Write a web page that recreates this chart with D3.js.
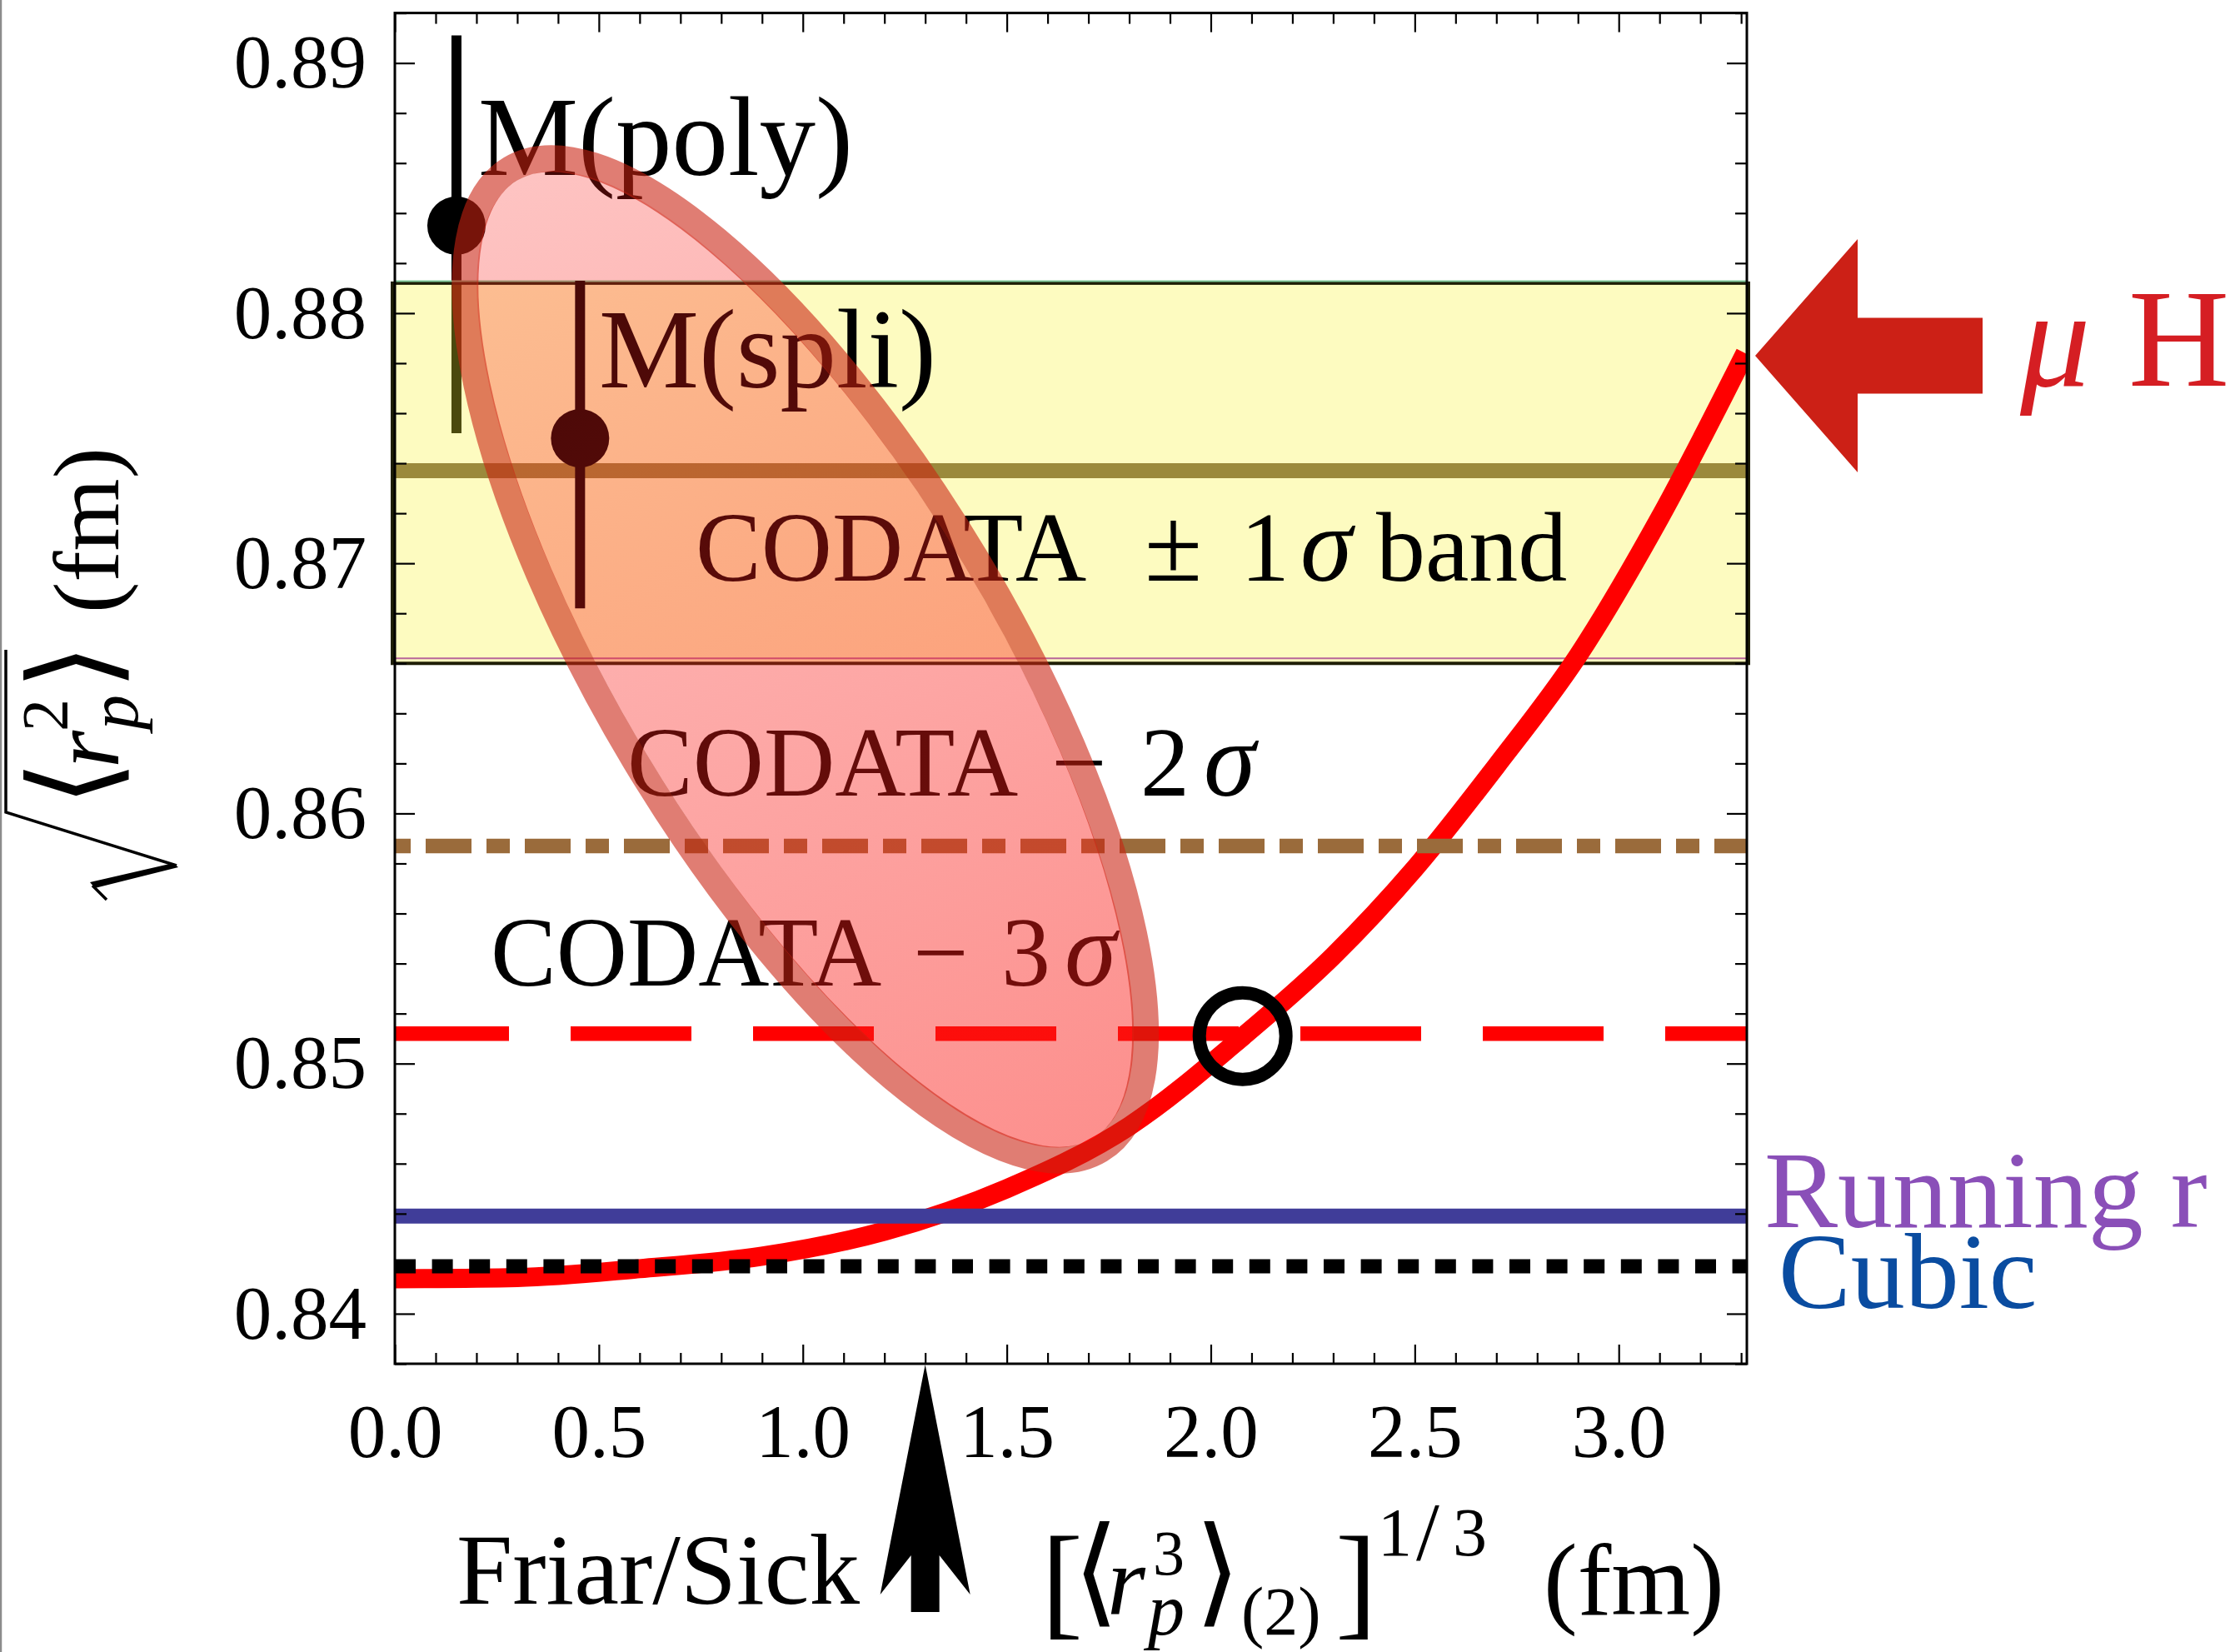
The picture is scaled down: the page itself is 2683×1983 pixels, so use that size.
<!DOCTYPE html>
<html><head><meta charset="utf-8">
<script src="https://cdn.jsdelivr.net/npm/d3@7"></script>
<style>
html,body{margin:0;padding:0;background:#fff;}
svg{display:block;}
text{font-family:"Liberation Serif","DejaVu Serif","Times New Roman",serif;}
</style></head><body>
<svg id="chart" width="2683" height="1983"></svg>
<script>
// ---------- data ----------
const xMajorTicks = [0, 0.5, 1.0, 1.5, 2.0, 2.5, 3.0];
const xTickLabels = ["0.0", "0.5", "1.0", "1.5", "2.0", "2.5", "3.0"];
const yMajorTicks = [0.84, 0.85, 0.86, 0.87, 0.88, 0.89];
const yTickLabels = ["0.84", "0.85", "0.86", "0.87", "0.88", "0.89"];

// muonic-hydrogen constraint: third Zemach moment (fm) -> rms radius (fm)
const curveR3 = [0, 0.3, 0.6, 0.9, 1.2, 1.5, 1.8, 2.08, 2.3, 2.5, 2.7, 2.9, 3.1, 3.31];
const curveRp = [0.8414, 0.84145, 0.8418, 0.8423, 0.8433, 0.8450, 0.8475, 0.8511, 0.8543, 0.8578, 0.8619, 0.8663, 0.8718, 0.8784];

// form-factor fits with error bars
const fitNames = ["M(poly)", "M(spli)"];
const fitR3 = [0.151, 0.454];
const fitRp = [0.8835, 0.8750];
const fitRpLow = [0.8752, 0.8682];
const fitRpHigh = [0.8911, 0.8813];

const codataCentral = 0.8737;
const codataBand = [0.8660, 0.8812];
const codataMinus2 = 0.8587;
const codataMinus3 = 0.8512;
const runningR = 0.8439;
const cubicR = 0.8419;
const crossingPoint = [2.078, 0.8511];
const friarSickR3 = 1.3;
const muHRadius = 0.8783;

// error ellipse: outer ends of the major axis (fm, fm) and minor/major ratio
const ellipseAxisEnds = [[0.2666, 0.88622], [1.7456, 0.84610]];
const ellipseAxisRatio = 0.361;

// ---------- layout ----------
const W = 2683, H = 1983;
const L = 474, R = 2097, T = 15.6, B = 1637;
const x = d3.scaleLinear([0, 3.314], [L, R]);
const y = d3.scaleLinear([0.838, 0.892], [B, T]);
const xMinor = d3.range(1, 34).map(i => i / 10).filter(v => Math.abs(v * 2 - Math.round(v * 2)) > 1e-6);
const yMinor = d3.range(419, 447).map(i => i / 500).filter(v => Math.abs(v * 100 - Math.round(v * 100)) > 1e-6);

const svg = d3.select("#chart");
svg.append("rect").attr("width", W).attr("height", H).attr("fill", "#fff");
svg.append("line").attr("x1", 1).attr("x2", 1).attr("y1", 0).attr("y2", H)
  .attr("stroke", "#8c8c8c").attr("stroke-width", 2.5);

const defs = svg.append("defs");
defs.append("clipPath").attr("id", "plotClip").append("rect")
  .attr("x", L).attr("y", T).attr("width", R - L).attr("height", B - T);

const layer = name => svg.append("g").attr("class", name);
const gFitsLow = layer("fits-low").attr("clip-path", "url(#plotClip)");
const gBand = layer("band");
const gCentral = layer("central").attr("clip-path", "url(#plotClip)");
const gFitsHigh = layer("fits-high").attr("clip-path", "url(#plotClip)");
const gLabels = layer("labels");
const gCurve = layer("curve").attr("clip-path", "url(#plotClip)");
const gLines = layer("lines").attr("clip-path", "url(#plotClip)");
const gEll = layer("ellipse").attr("clip-path", "url(#plotClip)");
const gMark = layer("marker");
const gAxes = layer("axes");
const gNotes = layer("notes");

// fits: error bars + dots (the polynomial fit sits beneath the CODATA band)
const fits = fitNames.map((n, i) => ({ n, x: fitR3[i], y: fitRp[i], lo: fitRpLow[i], hi: fitRpHigh[i] }));
function drawFits(g, data) {
  g.selectAll("line").data(data).join("line")
    .attr("x1", d => x(d.x)).attr("x2", d => x(d.x))
    .attr("y1", d => y(d.hi)).attr("y2", d => y(d.lo))
    .attr("stroke", "#000").attr("stroke-width", 12);
  g.selectAll("circle").data(data).join("circle")
    .attr("cx", d => x(d.x)).attr("cy", d => y(d.y)).attr("r", 35).attr("fill", "#000");
}
drawFits(gFitsLow, fits.slice(0, 1));
drawFits(gFitsHigh, fits.slice(1));

// CODATA +-1 sigma band
gBand.append("rect")
  .attr("x", L - 3).attr("width", R - L + 5)
  .attr("y", y(codataBand[1])).attr("height", y(codataBand[0]) - y(codataBand[1]))
  .attr("fill", "rgb(248,242,47)").attr("fill-opacity", 0.3)
  .attr("stroke", "#1e1e06").attr("stroke-width", 4);
gBand.append("line").attr("x1", L).attr("x2", R)
  .attr("y1", y(codataBand[1]) - 2.5).attr("y2", y(codataBand[1]) - 2.5)
  .attr("stroke", "#7fc79a").attr("stroke-width", 2);
gBand.append("line").attr("x1", L).attr("x2", R)
  .attr("y1", y(codataBand[0]) - 6).attr("y2", y(codataBand[0]) - 6)
  .attr("stroke", "#b8669a").attr("stroke-width", 2);

gCentral.append("line").attr("x1", L).attr("x2", R)
  .attr("y1", y(codataCentral)).attr("y2", y(codataCentral))
  .attr("stroke", "#9b8a3c").attr("stroke-width", 18);

// labels inside the frame
gLabels.append("text").attr("x", 574).attr("y", 210).attr("font-size", 135).text(fitNames[0]);
gLabels.append("text").attr("x", 719).attr("y", 465).attr("font-size", 135).text(fitNames[1]);
function codataLabel(parts, baseY) {
  const t = gLabels.append("text").attr("y", baseY).attr("font-size", 118);
  parts.forEach(p => {
    t.append("tspan").attr("x", p[0]).attr("font-style", p[2] ? "italic" : null)
      .attr("font-size", p[3] || null).text(p[1]);
  });
}
codataLabel([[835, "CODATA"], [1374, "\u00b1", 0, 126], [1489, "1"], [1561, "\u03c3", 1, 126], [1652, "band"]], 697);
codataLabel([[753, "CODATA"], [1262, "\u2212"], [1369, "2"], [1445, "\u03c3", 1, 126]], 955);
codataLabel([[589, "CODATA"], [1096, "\u2212"], [1202, "3"], [1278, "\u03c3", 1, 126]], 1183);

// muonic hydrogen curve
const line = d3.line().x((d, i) => x(curveR3[i])).y(d => y(d)).curve(d3.curveMonotoneX);
gCurve.append("path").attr("d", line(curveRp)).attr("fill", "none")
  .attr("stroke", "#ff0000").attr("stroke-width", 23);

// horizontal reference lines
function hline(v, color, w, dash, offset) {
  gLines.append("line").attr("x1", L).attr("x2", R).attr("y1", y(v)).attr("y2", y(v))
    .attr("stroke", color).attr("stroke-width", w)
    .attr("stroke-dasharray", dash).attr("stroke-dashoffset", offset || 0);
}
hline(codataMinus2, "#9a6b3b", 17.5, "55,18,28,18", 82);
hline(codataMinus3, "#ff0000", 17.5, "145,74", 8);
hline(runningR, "#403d99", 18, null);
hline(cubicR, "#000", 17, "25,19.6", 0);

// error ellipse (fill + semi-transparent rim, no overlap between them)
const p1 = [x(ellipseAxisEnds[0][0]), y(ellipseAxisEnds[0][1])];
const p2 = [x(ellipseAxisEnds[1][0]), y(ellipseAxisEnds[1][1])];
const ec = [(p1[0] + p2[0]) / 2, (p1[1] + p2[1]) / 2];
const ea = Math.hypot(p2[0] - p1[0], p2[1] - p1[1]) / 2;
const eb = ea * ellipseAxisRatio;
const eAng = Math.atan2(p2[1] - p1[1], p2[0] - p1[0]) * 180 / Math.PI;
const ringW = 32;
const grad = defs.append("linearGradient").attr("id", "ellGrad").attr("gradientUnits", "userSpaceOnUse")
  .attr("x1", -ea).attr("y1", 0).attr("x2", ea).attr("y2", 0);
grad.append("stop").attr("offset", 0).attr("stop-color", "rgb(250,30,25)").attr("stop-opacity", 0.26);
grad.append("stop").attr("offset", 1).attr("stop-color", "rgb(250,30,25)").attr("stop-opacity", 0.5);
const ell = gEll.append("g").attr("transform", `translate(${ec[0]},${ec[1]}) rotate(${eAng})`);
ell.append("ellipse").attr("rx", ea - ringW).attr("ry", eb - ringW).attr("fill", "url(#ellGrad)");
ell.append("ellipse").attr("rx", ea - ringW / 2).attr("ry", eb - ringW / 2)
  .attr("fill", "none").attr("stroke", "rgb(203,34,17)").attr("stroke-opacity", 0.59)
  .attr("stroke-width", ringW);

// open circle where the curve meets the -3 sigma line
gMark.append("circle").attr("cx", x(crossingPoint[0])).attr("cy", y(crossingPoint[1]))
  .attr("r", 52).attr("fill", "none").attr("stroke", "#000").attr("stroke-width", 16);

// ---------- frame and axes ----------
gAxes.append("rect").attr("x", L).attr("y", T).attr("width", R - L).attr("height", B - T)
  .attr("fill", "none").attr("stroke", "#000").attr("stroke-width", 3);
function styleAxis(g) {
  g.select(".domain").remove();
  g.attr("font-family", null).attr("font-size", null);
  g.selectAll(".tick line").attr("stroke", "#000").attr("stroke-width", 2.2);
  g.selectAll(".tick text").attr("font-size", 91).attr("fill", "#000");
}
gAxes.append("g").attr("transform", `translate(0,${B})`)
  .call(d3.axisBottom(x).tickValues(xMajorTicks).tickSize(-23).tickPadding(47)
    .tickFormat((d, i) => xTickLabels[i])).call(styleAxis);
gAxes.append("g").attr("transform", `translate(0,${B})`)
  .call(d3.axisBottom(x).tickValues(xMinor).tickSize(-13).tickFormat("")).call(styleAxis);
gAxes.append("g").attr("transform", `translate(0,${T})`)
  .call(d3.axisTop(x).tickValues(xMajorTicks).tickSize(-23).tickFormat("")).call(styleAxis);
gAxes.append("g").attr("transform", `translate(0,${T})`)
  .call(d3.axisTop(x).tickValues(xMinor).tickSize(-13).tickFormat("")).call(styleAxis);
gAxes.append("g").attr("transform", `translate(${L},0)`)
  .call(d3.axisLeft(y).tickValues(yMajorTicks).tickSize(-24).tickPadding(34)
    .tickFormat((d, i) => yTickLabels[i])).call(styleAxis);
gAxes.append("g").attr("transform", `translate(${L},0)`)
  .call(d3.axisLeft(y).tickValues(yMinor).tickSize(-14).tickFormat("")).call(styleAxis);
gAxes.append("g").attr("transform", `translate(${R},0)`)
  .call(d3.axisRight(y).tickValues(yMajorTicks).tickSize(-24).tickFormat("")).call(styleAxis);
gAxes.append("g").attr("transform", `translate(${R},0)`)
  .call(d3.axisRight(y).tickValues(yMinor).tickSize(-14).tickFormat("")).call(styleAxis);

// y-axis title: sqrt(<r_p^2>) (fm), rotated
const yt = gAxes.append("g").attr("transform", "translate(0,1080) rotate(-90)");
yt.append("path").attr("d", "M0,128 L17,111 M41,212 L105,7 L300,7")
  .attr("fill", "none").attr("stroke", "#000").attr("stroke-width", 3.5);
yt.append("path").attr("d", "M14,114 L21,108 L44,208 L39,214 Z").attr("fill", "#000");
const ytt = yt.append("text").attr("y", 142).attr("font-size", 116);
ytt.append("tspan").attr("x", 112).attr("y", 136).attr("font-size", 142).attr("font-family", "DejaVu Serif").text("\u27e8");
ytt.append("tspan").attr("x", 158).attr("y", 142).attr("font-style", "italic").text("r");
ytt.append("tspan").attr("x", 202).attr("y", 80).attr("font-size", 78).text("2");
ytt.append("tspan").attr("x", 204).attr("y", 165).attr("font-size", 84).attr("font-style", "italic").text("p");
ytt.append("tspan").attr("x", 252).attr("y", 136).attr("font-size", 142).attr("font-family", "DejaVu Serif").text("\u27e9");
ytt.append("tspan").attr("x", 344).attr("y", 142).attr("font-size", 112).text("(fm)");

// x-axis title: [<r_p^3>_(2)]^(1/3) (fm)
const xt = gAxes.append("text").attr("y", 1938).attr("font-size", 118);
xt.append("tspan").attr("x", 1250).attr("y", 1948).attr("font-size", 150).text("[");
xt.append("tspan").attr("x", 1288).attr("y", 1934).attr("font-size", 142).attr("font-family", "DejaVu Serif").text("\u27e8");
xt.append("tspan").attr("x", 1329).attr("y", 1938).attr("font-style", "italic").text("r");
xt.append("tspan").attr("x", 1384).attr("y", 1890).attr("font-size", 76).text("3");
xt.append("tspan").attr("x", 1378).attr("y", 1962).attr("font-size", 88).attr("font-style", "italic").text("p");
xt.append("tspan").attr("x", 1434).attr("y", 1934).attr("font-size", 142).attr("font-family", "DejaVu Serif").text("\u27e9");
xt.append("tspan").attr("x", 1490).attr("y", 1962).attr("font-size", 82).text("(2)");
xt.append("tspan").attr("x", 1603).attr("y", 1948).attr("font-size", 150).text("]");
xt.append("tspan").attr("x", 1654).attr("y", 1867).attr("font-size", 82).text("1");
xt.append("tspan").attr("x", 1700).attr("y", 1872).attr("font-size", 100).text("/");
xt.append("tspan").attr("x", 1744).attr("y", 1867).attr("font-size", 82).text("3");
xt.append("tspan").attr("x", 1853).attr("y", 1938).attr("font-size", 122).text("(fm)");

// ---------- annotations outside the frame ----------
// Friar/Sick value of the third Zemach moment
const fx = x(friarSickR3), fy = B + 1;
gNotes.append("polygon")
  .attr("points", [[0, 0], [54, 276], [17, 229], [17, 297], [-17, 297], [-17, 229], [-54, 276]]
    .map(p => [fx + p[0], fy + p[1]].join(",")).join(" "))
  .attr("fill", "#000");
gNotes.append("text").attr("x", 548).attr("y", 1925).attr("font-size", 121).text("Friar/Sick");

// muonic hydrogen arrow
const mx = R + 10, my = y(muHRadius);
gNotes.append("polygon")
  .attr("points", [[0, 0], [123, -140], [123, -45.5], [273, -45.5], [273, 45.5], [123, 45.5], [123, 140]]
    .map(p => [mx + p[0], my + p[1]].join(",")).join(" "))
  .attr("fill", "#cc2016");
const mh = gNotes.append("text").attr("y", 463).attr("font-size", 168).attr("fill", "#d51e23");
mh.append("tspan").attr("x", 2425).attr("font-style", "italic").text("\u03bc");
mh.append("tspan").attr("x", 2555).text("H");

// labels for the two low-radius lines (stacked)
const lowLab = gNotes.append("text").attr("font-size", 132);
lowLab.append("tspan").attr("x", 2118).attr("y", 1473).attr("fill", "#8a4fb8").text("Running r");
lowLab.append("tspan").attr("x", 2135).attr("y", 1570).attr("font-size", 130).attr("fill", "#0a4ca0").text("Cubic");
</script></body></html>
